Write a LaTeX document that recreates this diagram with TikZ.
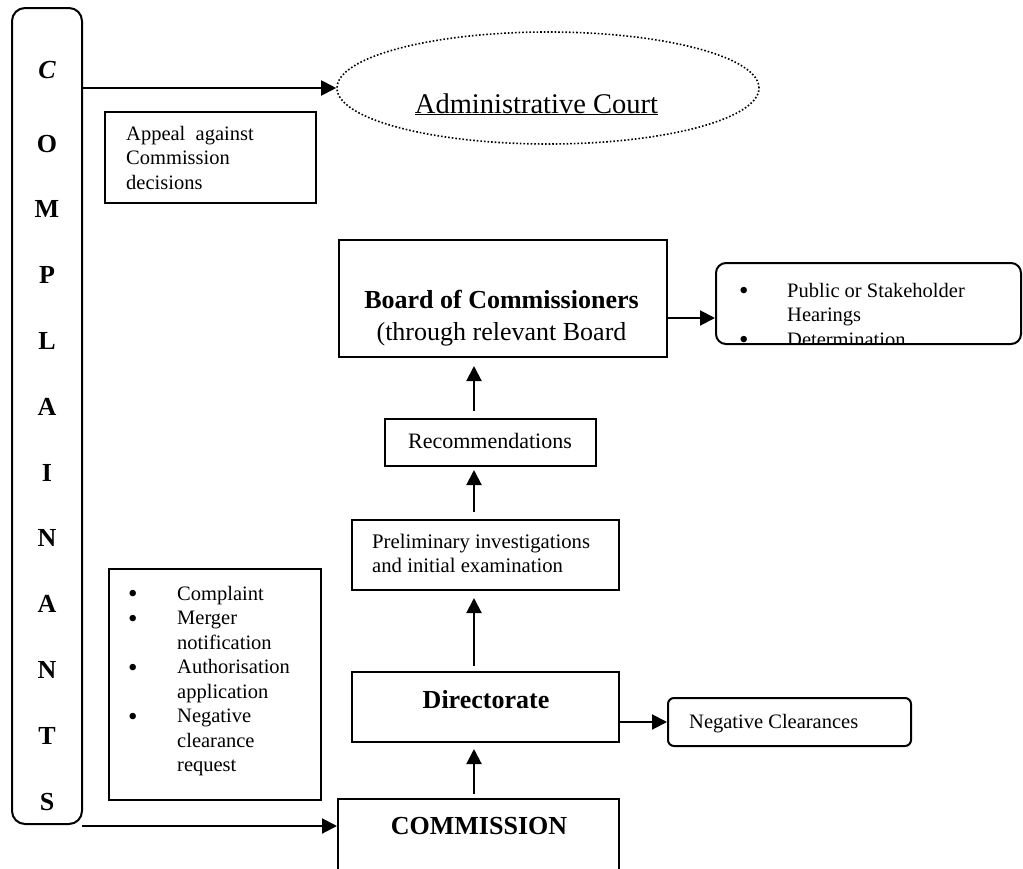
\documentclass[tikz,border=0pt]{standalone}
\usepackage{fontspec}
\setmainfont{Liberation Serif}
\usetikzlibrary{arrows.meta,shapes.geometric}
\newcommand{\bul}{\raisebox{-2.5pt}{\fontsize{27}{24.5}\selectfont •}}
\begin{document}
\begin{tikzpicture}[x=1pt,y=-1pt,
  box/.style={draw,line width=2pt,rectangle,inner sep=0pt},
  arr/.style={line width=2pt,-{Triangle[length=15pt,width=15pt]}},
  lbl/.style={inner sep=0pt,font=\fontsize{20.5}{24.5}\selectfont},
  letter/.style={inner sep=0pt,anchor=base,font=\fontsize{26}{30}\selectfont\bfseries},
  big/.style={inner sep=0pt,anchor=base,font=\fontsize{26}{32}\selectfont}
]
\path[use as bounding box] (0,0) rectangle (1023,868);
\clip (0,0) rectangle (1023,868);
\fill[white] (0,0) rectangle (1023,868);

% boxes
\node[box,rounded corners=13pt,minimum width=70pt,minimum height=816pt] (comp) at (47,416) {};
\node[ellipse,draw,line width=1.6pt,dotted,minimum width=422pt,minimum height=112pt,inner sep=0pt] (court) at (548,88) {};
\node[box,minimum width=211pt,minimum height=91pt] (appeal) at (210.5,157.5) {};
\node[box,minimum width=328pt,minimum height=117pt] (board) at (503,298.5) {};
\node[box,rounded corners=10pt,minimum width=305pt,minimum height=81pt] (hear) at (868.5,303.5) {};
\node[box,minimum width=211pt,minimum height=47pt] (rec) at (490.5,442.5) {};
\node[box,minimum width=267pt,minimum height=70pt] (prel) at (485.5,555) {};
\node[box,minimum width=267pt,minimum height=70pt] (dir) at (485.5,707) {};
\node[box,rounded corners=6pt,minimum width=243pt,minimum height=48pt] (negc) at (789.5,722) {};
\node[box,minimum width=281pt,minimum height=101pt] (comm) at (478.5,849.5) {};
\node[box,minimum width=212pt,minimum height=231pt] (req) at (215,684.5) {};

% vertical letters
\node[letter,font=\fontsize{26}{30}\selectfont\bfseries\itshape] (l1) at (47,78) {C};
\node[letter] (l2) at (47,152) {O};
\node[letter] (l3) at (47,217.8) {M};
\node[letter] (l4) at (47,283.6) {P};
\node[letter] (l5) at (47,349.4) {L};
\node[letter] (l6) at (47,415.2) {A};
\node[letter] (l7) at (47,481) {I};
\node[letter] (l8) at (47,546.8) {N};
\node[letter] (l9) at (47,612.6) {A};
\node[letter] (l10) at (47,678.4) {N};
\node[letter] (l11) at (47,744.2) {T};
\node[letter] (l12) at (47,810) {S};

% texts
\node[inner sep=0pt,anchor=base,font=\fontsize{28.5}{32}\selectfont] (courtt) at (536.5,113) {\underline{Administrative Court}};
\node[lbl,anchor=base west] (appt) at (126,140) {\begin{tabular}[t]{@{}l@{}}Appeal\ \ against\\Commission\\decisions\end{tabular}};
\node[big,font=\fontsize{26}{32}\selectfont\bfseries] (bt1) at (501.5,308) {Board of Commissioners};
\node[big] (bt2) at (501.5,340) {(through relevant Board};
\begin{scope}
\clip (hear.north west) rectangle ([yshift=1pt]hear.south east);
\node[lbl,anchor=base west] (heart) at (739,297) {\begin{tabular}[t]{@{}p{48pt}@{}l@{}}\bul&Public or Stakeholder\\&Hearings\\\bul&Determination\end{tabular}};
\end{scope}
\node[inner sep=0pt,anchor=base,font=\fontsize{22}{26}\selectfont] (rect) at (490,448) {Recommendations};
\node[lbl,anchor=base west,font=\fontsize{20.7}{24}\selectfont] (prelt) at (372,548) {\begin{tabular}[t]{@{}l@{}}Preliminary investigations\\and initial examination\end{tabular}};
\node[big,font=\fontsize{26}{32}\selectfont\bfseries] (dirt) at (486,708) {Directorate};
\node[lbl,anchor=base west] (negt) at (689,728) {Negative Clearances};
\node[big,font=\fontsize{26}{32}\selectfont\bfseries] (commt) at (479,834) {COMMISSION};
\node[lbl,anchor=base west] (reqt) at (128,600) {\begin{tabular}[t]{@{}p{49pt}@{}l@{}}\bul&Complaint\\\bul&Merger\\&notification\\\bul&Authorisation\\&application\\\bul&Negative\\&clearance\\&request\end{tabular}};

% connectors
\coordinate (ax) at (474,0);
\coordinate (c1) at (82,826);
\coordinate (hy) at (0,318);
\draw[arr] (comp.east |- court.west) -- (court.west);
\draw[arr] (c1) -- (comm.west |- c1);
\draw[arr,shorten <=4pt,shorten >=6pt] (comm.north -| ax) -- (dir.south -| ax);
\draw[arr,shorten <=5pt,shorten >=7pt] (dir.north -| ax) -- (prel.south -| ax);
\draw[arr,shorten <=7pt,shorten >=3pt] (prel.north -| ax) -- (rec.south -| ax);
\draw[arr,shorten <=7pt,shorten >=8pt] (rec.north -| ax) -- (board.south -| ax);
\draw[arr] (board.east |- hy) -- (hear.west |- hy);
\draw[arr] (dir.east |- negc.west) -- (negc.west);
\end{tikzpicture}
\end{document}
